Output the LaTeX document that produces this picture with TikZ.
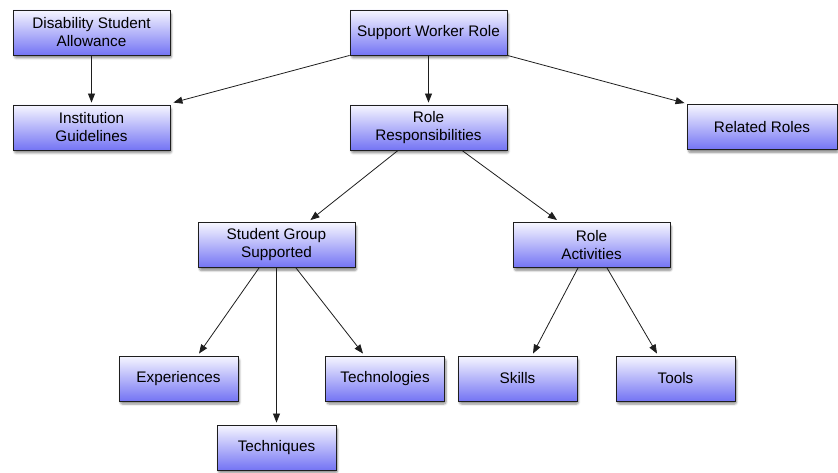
\documentclass[tikz,border=0pt]{standalone}
\usepackage{fontspec}
\setmainfont{Liberation Sans}
\usetikzlibrary{arrows.meta,shadows.blur}
\definecolor{boxtop}{RGB}{246,246,255}
\definecolor{boxbot}{RGB}{116,116,244}
\definecolor{edge}{RGB}{30,30,30}
\tikzset{
  box/.style={draw=edge, line width=0.9pt, top color=boxtop, bottom color=boxbot,
    minimum height=45pt, align=center, inner sep=0pt,
    font=\fontsize{15.3}{18}\selectfont,
    blur shadow={shadow blur steps=6, shadow xshift=1.5pt, shadow yshift=-3pt, shadow opacity=45, shadow blur extra rounding=2pt}},
  wide/.style={box, minimum width=157pt},
  narrow/.style={box, minimum width=119pt},
  link/.style={draw=edge, line width=0.8pt, -{Triangle[length=9pt,width=7pt]}}
}
\begin{document}
\begin{tikzpicture}[x=1pt,y=1pt]
\useasboundingbox (0,0) rectangle (838,472);
\node[wide] (dsa) at (91.5,439.5) {Disability Student\\Allowance};
\node[wide] (swr) at (428.5,439.5) {Support Worker Role};
\node[wide] (ig) at (91.5,344.5) {Institution\\Guidelines};
\node[wide] (rr) at (428.5,344.5) {Role\\Responsibilities};
\node[box, minimum width=150pt] (rel) at (762,345) {Related Roles};
\node[wide] (sgs) at (276.5,227) {Student Group\\Supported};
\node[wide] (ra) at (591.5,227) {Role\\Activities};
\node[narrow] (exp) at (178.5,93.5) {Experiences};
\node[narrow] (tech) at (385,93.5) {Technologies};
\node[narrow] (tq) at (276.5,24.5) {Techniques};
\node[narrow] (sk) at (517.5,93.5) {Skills};
\node[narrow] (to) at (675.5,93.5) {Tools};

\draw[link] (dsa.south) -- ([yshift=2]ig.north);
\draw[link] (swr.south west) -- ([shift={(3,2)}]ig.north east);
\draw[link] (swr.south) -- ([yshift=2]rr.north);
\draw[link] (swr.south east) -- ([shift={(-2,1)}]rel.north west);
\draw[link] ([xshift=-30.5]rr.south) -- ([shift={(-45,2)}]sgs.north east);
\draw[link] ([xshift=33.5]rr.south) -- ([shift={(-34.5,2)}]ra.north);
\draw[link] ([xshift=-17.5]sgs.south) -- ([shift={(20.5,2)}]exp.north);
\draw[link] (sgs.south) -- ([yshift=2]tq.north);
\draw[link] ([xshift=19.5]sgs.south) -- ([shift={(-22,2)}]tech.north);
\draw[link] ([xshift=-13.5]ra.south) -- ([shift={(15.5,2)}]sk.north);
\draw[link] ([xshift=15.5]ra.south) -- ([shift={(-18.5,2)}]to.north);
\end{tikzpicture}
\end{document}
